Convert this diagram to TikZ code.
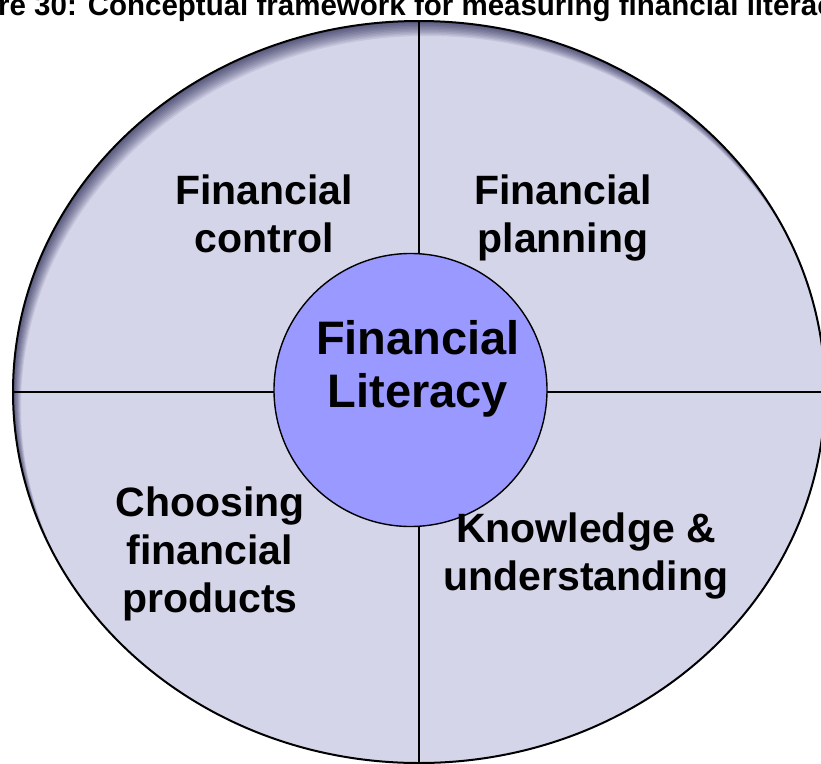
\documentclass[tikz,border=0pt]{standalone}
\usepackage{fontspec}
\setmainfont{Liberation Sans}
\usepackage{tikz}
\usetikzlibrary{shapes,positioning}
\definecolor{wheelfill}{RGB}{213,213,234}
\definecolor{corefill}{RGB}{153,153,255}
\tikzstyle{wheel}=[ellipse, fill=wheelfill, inner sep=0pt, minimum width=812pt, minimum height=742pt]
\tikzstyle{core}=[circle, draw=black, fill=corefill, line width=1.4pt, inner sep=0pt, minimum size=273pt]
\tikzstyle{quad}=[align=center, anchor=north, inner sep=0pt, font=\bfseries\fontsize{41}{48}\selectfont]
\tikzstyle{split}=[line width=2pt]

\begin{document}
\begin{tikzpicture}[x=1pt, y=-1pt]
\useasboundingbox (0,0) rectangle (821,763);
% caption, cut at both sides
\node[anchor=base west, inner sep=0pt, font=\bfseries\fontsize{29.5}{35}\selectfont] (title) at (-2,15)
  {re 30: Conceptual framework for measuring financial literac};
\node[wheel] (W) at (419,392) {};
% dark rim inside the upper and left edge
\begin{scope}
  \clip (W.center) ellipse [x radius=406, y radius=371];
  \foreach \i in {1,...,10}
    \fill[black!80!blue, fill opacity=0.08, even odd rule] (-10,-10) rectangle (840,780)
      (419+0.8*\i,392+1.5*\i) ellipse [x radius=406, y radius=371];
\end{scope}
\draw[split] (W.center) ellipse [x radius=406, y radius=371];
\draw[split] (W.north) -- (W.south);
\draw[split] (W.west) -- (W.east);
\node[core] (FL) at (410.5,390) {};
\node[quad, font=\bfseries\fontsize{47}{53}\selectfont] (lit) at (418,320) {Financial\\Literacy};
% the four parts
\node[quad] (ctrl) at (264,175) {Financial\\control};
\node[quad] (plan) at (563,175) {Financial\\planning};
\node[quad] (prod) at (210,487) {Choosing\\financial\\products};
\node[quad] (know) at (586,513) {Knowledge \&\\understanding};
\end{tikzpicture}
\end{document}
